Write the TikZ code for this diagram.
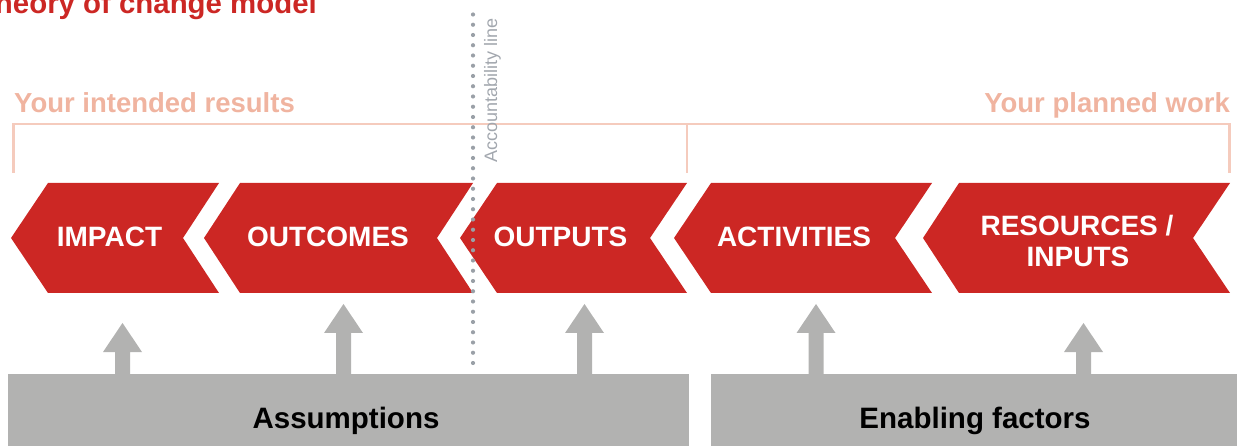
\documentclass[tikz,border=0pt]{standalone}
\usepackage{fontspec}
\setmainfont{Liberation Sans}
\definecolor{chevred}{HTML}{CC2724}
\definecolor{headsalmon}{HTML}{F0B4A0}
\definecolor{bracketsalmon}{HTML}{F5CBBD}
\definecolor{boxgray}{HTML}{B2B2B1}
\definecolor{dotgray}{HTML}{9AA0A7}
\definecolor{acctgray}{HTML}{A2A7AE}
\tikzset{
  chev/.style={fill=chevred, draw=none},
  chevtext/.style={text=white, font=\bfseries\fontsize{28}{31}\selectfont, inner sep=0pt, anchor=base, align=center},
  headtext/.style={text=headsalmon, font=\bfseries\fontsize{27.5}{30}\selectfont, inner sep=0pt},
  bracket/.style={draw=bracketsalmon, line width=2.7pt},
  graybox/.style={fill=boxgray, draw=none, inner sep=0pt},
  boxtext/.style={text=black, font=\bfseries\fontsize{29.5}{32}\selectfont, inner sep=0pt, anchor=base},
  blockarrow/.style={fill=boxgray, draw=none},
}
\newcommand{\chevshape}[5]{% name, point x, top-left x, top-right x, notch x
  \path[chev] (#2,238) -- (#3,183) -- (#4,183) -- (#5,238) -- (#4,293) -- (#3,293) -- cycle;
  \coordinate (#1) at ({(#3+#4)/2},238);
}
\newcommand{\uparrowblock}[3]{% center x, tip y, head base y
  \path[blockarrow] (#1-7.5,374) -- (#1-7.5,#3) -- (#1-19.5,#3) -- (#1,#2) -- (#1+19.5,#3) -- (#1+7.5,#3) -- (#1+7.5,374) -- cycle;
}
\begin{document}
\begin{tikzpicture}[x=1pt,y=-1pt]
\useasboundingbox (0,0) rectangle (1237,446);

% title (cut off at the left edge)
\node[text=chevred, font=\bfseries\fontsize{29.4}{32}\selectfont, inner sep=0pt, anchor=base east] (title) at (317,14) {Theory of change model};

% header labels
\node[headtext, anchor=base west] (intended) at (14,113) {Your intended results};
\node[headtext, anchor=base east] (planned) at (1230,113) {Your planned work};

% brackets
\coordinate (bl) at (13.5,173);
\coordinate (bm) at (687,173);
\coordinate (br) at (1229.5,173);
\draw[bracket] (bl) -- (13.5,124) -- (1229.5,124) -- (br);
\draw[bracket] (687,124) -- (bm);

% chevrons
\chevshape{impact}{11}{48}{219}{183}
\chevshape{outcomes}{204}{240}{473}{437}
\chevshape{outputs}{460}{497}{687}{650}
\chevshape{activities}{674}{711}{932}{895}
\chevshape{resources}{923}{959}{1230}{1193}

\node[chevtext] (timpact) at (109.5,247) {IMPACT};
\node[chevtext] (toutcomes) at (328,247) {OUTCOMES};
\node[chevtext] (toutputs) at (560.5,247) {OUTPUTS};
\node[chevtext] (tactivities) at (794,247) {ACTIVITIES};
\node[chevtext] (tres1) at (1077,235.5) {RESOURCES /};
\node[chevtext] (tres2) at (1078,266.5) {INPUTS};

% accountability line
\foreach \i in {0,...,34} {
  \fill[dotgray] (473,{14.5+\i*10.25}) circle (2.1);
}
\node[text=acctgray, font=\fontsize{18}{20}\selectfont, inner sep=0pt, anchor=base west, rotate=90] (acct) at (497,163) {Accountability line};

% gray boxes
\path[graybox] (8,374) rectangle (689,446);
\path[graybox] (711,374) rectangle (1237,446);
\node[boxtext] (assump) at (346,428) {Assumptions};
\node[boxtext] (enabling) at (975,428) {Enabling factors};

% block arrows
\uparrowblock{122.5}{323}{352}
\uparrowblock{343.5}{304}{333}
\uparrowblock{584.5}{304}{333}
\uparrowblock{816}{304}{333}
\uparrowblock{1083.5}{323}{352}
\end{tikzpicture}
\end{document}
